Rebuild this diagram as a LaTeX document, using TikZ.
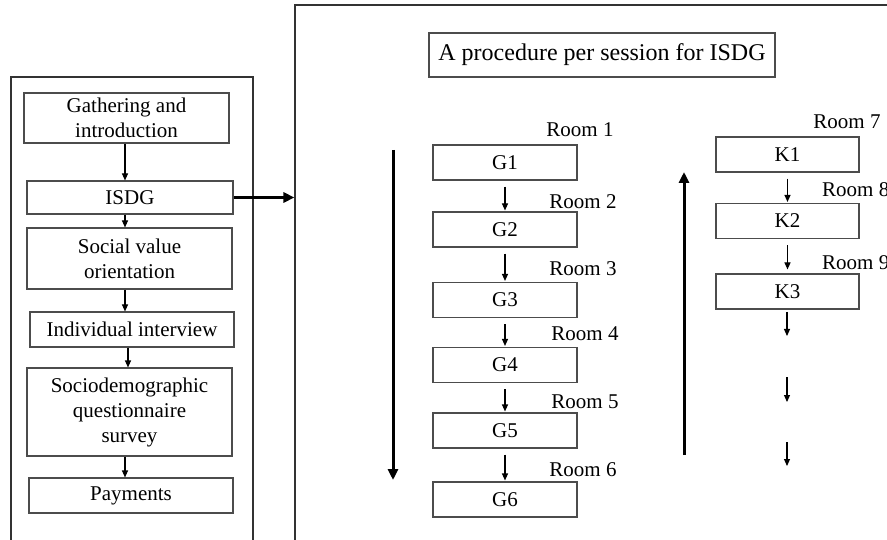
\documentclass[tikz,border=0pt]{standalone}
\usepackage{fontspec}
\setmainfont{Liberation Serif}
\usetikzlibrary{arrows.meta}
\begin{document}
\begin{tikzpicture}[x=1pt,y=-1pt,
  box/.style={draw=black!70,line width=1.1pt,inner sep=0pt,align=center,
    font=\fontsize{21}{25}\selectfont},
  frame/.style={draw=black!80,line width=1.1pt,inner sep=0pt},
  arr/.style={-{Triangle[length=7pt,width=6pt]},line width=1.1pt},
  bigarr/.style={-{Triangle[length=11pt,width=10pt]},line width=3pt},
  room/.style={inner sep=0pt,font=\fontsize{21}{25}\selectfont}]
\useasboundingbox (0,0) rectangle (887,540);
\clip (0,0) rectangle (887,540);
\fill[white] (0,0) rectangle (887,540);

% outer frames
\node[frame,minimum width=242pt,minimum height=483pt] (stages) at (132,318.5) {};
\node[frame,minimum width=605pt,minimum height=555pt] (sess) at (597.5,282.5) {};

% stages of the experiment
\node[box,minimum width=205pt,minimum height=50pt] (gath) at (126.5,118) {Gathering and\\introduction};
\node[box,minimum width=206pt,minimum height=33pt] (isdg) at (130,197.5) {ISDG};
\node[box,minimum width=205pt,minimum height=61pt] (svo) at (129.5,258.5) {Social value\\orientation};
\node[box,minimum width=204pt,minimum height=35pt] (indiv) at (132,329.5) {Individual interview};
\node[box,minimum width=205pt,minimum height=88pt] (socio) at (129.5,412) {Sociodemographic\\questionnaire\\survey};
\node[box,minimum width=204pt,minimum height=35pt] (pay) at (131,495.5) {Payments};

\draw[arr] (gath.south -| 125,0) -- (isdg.north -| 125,0);
\draw[arr] (isdg.south -| 125,0) -- (svo.north -| 125,0);
\draw[arr] (svo.south -| 125,0) -- (indiv.north -| 125,0);
\draw[arr] (indiv.south -| 128,0) -- (socio.north -| 128,0);
\draw[arr] (socio.south -| 125,0) -- (pay.north -| 125,0);

\draw[bigarr] (isdg.east) -- (isdg.east -| sess.west);

% session procedure
\node[box,minimum width=346pt,minimum height=44pt,font=\fontsize{24}{28}\selectfont] (title) at (602,55) {A procedure per session for ISDG};

\foreach \i/\y in {1/162.5,2/229.5,3/300,4/365,5/430.5,6/499.5}
  \node[box,minimum width=144pt,minimum height=35pt] (g\i) at (505,\y) {G\i};
\foreach \a/\b in {1/2,2/3,3/4,4/5,5/6}
  \draw[arr,shorten <=6pt,shorten >=1pt] (g\a.south) -- (g\b.north);

\node[room] (r1) at (580,130) {Room 1};
\node[room] (r2) at (583,202) {Room 2};
\node[room] (r3) at (583,269) {Room 3};
\node[room] (r4) at (585,334) {Room 4};
\node[room] (r5) at (585,402) {Room 5};
\node[room] (r6) at (583,470) {Room 6};

\foreach \i/\y in {1/154.5,2/221,3/291.5}
  \node[box,minimum width=143pt,minimum height=35pt] (k\i) at (787.5,\y) {K\i};
\draw[arr,shorten <=6pt,shorten >=1pt] (k1.south) -- (k2.north);
\draw[arr,shorten <=6pt,shorten >=4pt] (k2.south) -- (k3.north);

\node[room] (r7) at (847,122) {Room 7};
\node[room,anchor=west] (r8) at (822,190) {Room 8};
\node[room,anchor=west] (r9) at (822,263) {Room 9};

% continuation of the K sequence
\coordinate (c1a) at (787,312); \coordinate (c1b) at (787,336);
\coordinate (c2a) at (787,377); \coordinate (c2b) at (787,402);
\coordinate (c3a) at (787,442); \coordinate (c3b) at (787,466);
\draw[arr] (c1a) -- (c1b);
\draw[arr] (c2a) -- (c2b);
\draw[arr] (c3a) -- (c3b);

% direction of the G and K sequences
\coordinate (dtop) at (393,150); \coordinate (dbot) at (393,480);
\draw[bigarr] (dtop) -- (dbot);
\coordinate (ubot) at (684,455); \coordinate (utop) at (684,172);
\draw[bigarr] (ubot) -- (utop);
\end{tikzpicture}
\end{document}
